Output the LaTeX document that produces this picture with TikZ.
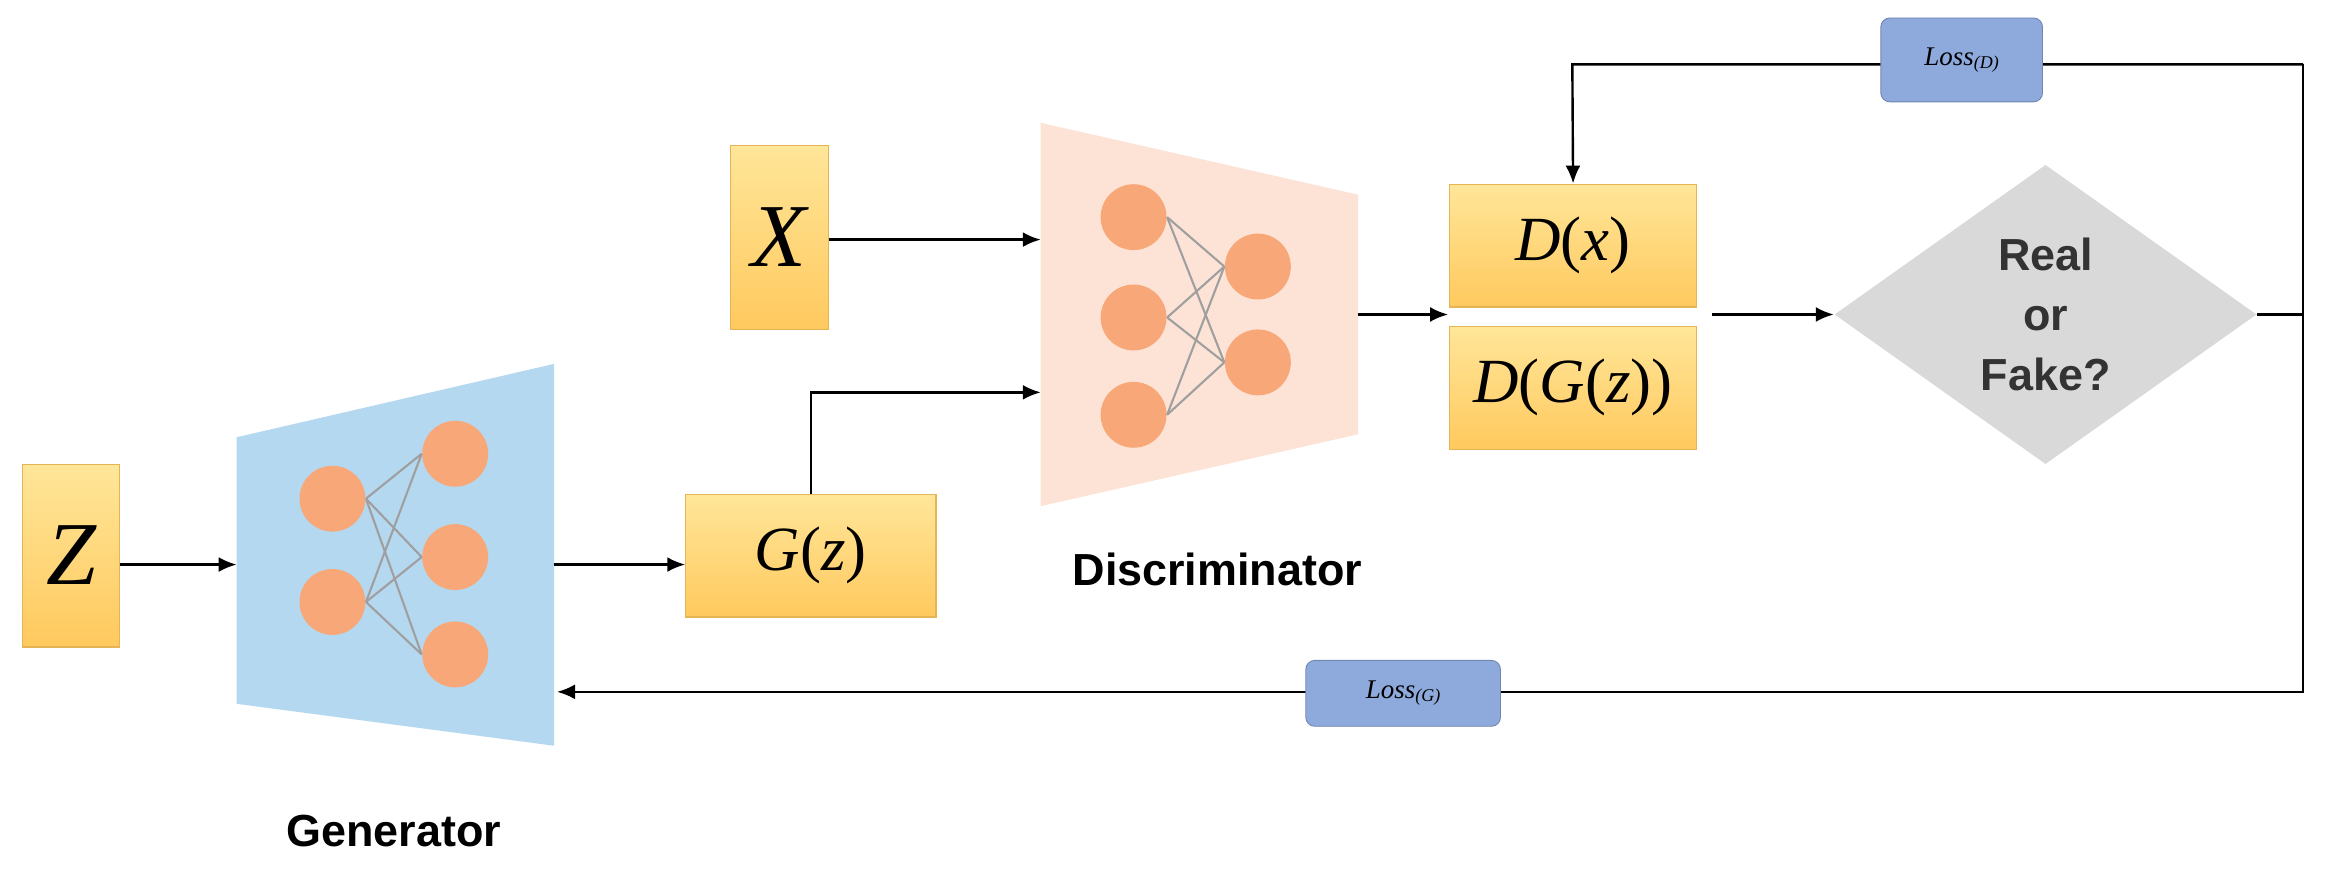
\documentclass[tikz,border=0pt]{standalone}
\usepackage{fontspec}
\setmainfont{Liberation Serif}
\newfontfamily\lsans{Liberation Sans}
\usetikzlibrary{shapes.geometric,arrows.meta}
\definecolor{boxtop}{HTML}{FFE699}
\definecolor{boxbot}{HTML}{FFC95E}
\definecolor{genblue}{HTML}{B4D8F0}
\definecolor{discpeach}{HTML}{FDE3D6}
\definecolor{neuron}{HTML}{F8A878}
\definecolor{lossblue}{HTML}{8EA9DB}
\definecolor{dia}{HTML}{D9D9D9}
\begin{document}
\begin{tikzpicture}[x=0.5pt,y=-0.5pt,
  vbox/.style={draw=boxbot!90!black,line width=0.4pt,top color=boxtop,bottom color=boxbot,inner sep=0pt,minimum width=#1},
  neu/.style={circle,fill=neuron,minimum size=22pt,inner sep=0pt},
  link/.style={draw=gray!75,line width=0.7pt},
  arr/.style={-{Latex[length=6pt,width=5pt]},line width=0.8pt},
  loss/.style={rounded corners=3pt,fill=lossblue,draw=lossblue!80!black,line width=0.3pt,inner sep=0pt,font=\itshape},
  lab/.style={font=\lsans\bfseries\fontsize{15}{17}\selectfont}]
\useasboundingbox (0,0) rectangle (1568,585);
% boxes
\node[vbox=32.5pt,minimum height=61pt] (Z) at (47.5,371) {\fontsize{30}{30}\selectfont\itshape Z};
\node[vbox=32.5pt,minimum height=61.5pt] (X) at (520.5,158.5) {\fontsize{30}{30}\selectfont\itshape X};
\node[vbox=83.5pt,minimum height=41pt] (G) at (541.5,371) {\fontsize{21}{21}\selectfont\itshape G\upshape(\itshape z\upshape)};
\node[vbox=82.5pt,minimum height=41pt] (Dx) at (1050.5,164) {\fontsize{21}{21}\selectfont\itshape D\upshape(\itshape x\upshape)};
\node[vbox=82.5pt,minimum height=41pt] (Dg) at (1050.5,259) {\fontsize{21}{21}\selectfont\itshape D\upshape(\itshape G\upshape(\itshape z\upshape))};
% generator
\fill[genblue] (158,292) -- (370,243) -- (370,498) -- (158,470) -- cycle;
\coordinate (genL) at (158,377); \coordinate (genR) at (370,377); \coordinate (genB) at (372,462);
\node[neu] (g1) at (222,333) {}; \node[neu] (g2) at (222,402) {};
\node[neu] (g3) at (304,303) {}; \node[neu] (g4) at (304,372) {}; \node[neu] (g5) at (304,437) {};
\foreach \a in {g1,g2}\foreach \b in {g3,g4,g5}\draw[link] (\a.east) -- (\b.west);
\node[lab] (gl) at (263,555) {Generator};
% discriminator
\fill[discpeach] (695,82) -- (907,130) -- (907,290) -- (695,338) -- cycle;
\coordinate (dX) at (695,160); \coordinate (dG) at (695,262); \coordinate (dR) at (907,210);
\node[neu] (d1) at (757,145) {}; \node[neu] (d2) at (757,212) {}; \node[neu] (d3) at (757,277) {};
\node[neu] (d4) at (840,178) {}; \node[neu] (d5) at (840,242) {};
\foreach \a in {d1,d2,d3}\foreach \b in {d4,d5}\draw[link] (\a.east) -- (\b.west);
\node[lab] (dl) at (813,380) {Discriminator};
% diamond
\node[diamond,fill=dia,minimum width=141pt,minimum height=100pt,inner sep=0pt,aspect=1.41,
  font=\lsans\bfseries\fontsize{15}{20}\selectfont,text=black!80,align=center] (RF) at (1366,210) {Real\\or\\Fake?};
% arrows
\draw[arr] (Z.east |- genL) -- (genL);
\draw[arr] (genR) -- (genR -| G.west);
\draw[arr] (X.east |- dX) -- (dX);
\draw[arr] (G.north) |- (dG);
\draw[arr] (dR) -- (967,210);
\coordinate (pre) at (1143,210);
\draw[arr] (pre) -- (RF.west);
\coordinate (tr) at (1538,43); \coordinate (br) at (1538,462);
\draw[line width=0.8pt] (RF.east) -- (1538,210) -- (tr);
\draw[arr] (tr) -- (1050,43) -- (Dx.north);
\draw[arr] (1538,210) -- (br) -- (genB);
\node[loss,minimum width=54pt,minimum height=28pt] (LD) at (1310,40) {\fontsize{9}{9}\selectfont Loss\raisebox{-1pt}{\fontsize{6}{6}\selectfont(D)}};
\node[loss,minimum width=65pt,minimum height=22pt] (LG) at (937,463) {\fontsize{9}{9}\selectfont Loss\raisebox{-1pt}{\fontsize{6}{6}\selectfont(G)}};
\end{tikzpicture}
\end{document}
